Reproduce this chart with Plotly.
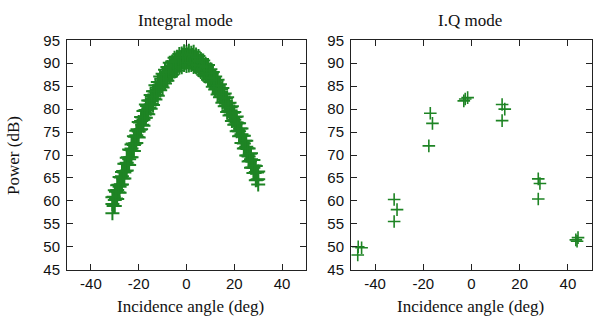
import plotly.graph_objects as go

# Integral mode: dense sweep, samples per degree of incidence
angle_int = [-31, -30, -29, -28, -27, -26, -25, -24, -23, -22, -21, -20, -19, -18, -17, -16,
             -15, -14, -13, -12, -11, -10, -9, -8, -7, -6, -5, -4, -3, -2, -1, 0,
             1, 2, 3, 4, 5, 6, 7, 8, 9, 10, 11, 12, 13, 14, 15, 16,
             17, 18, 19, 20, 21, 22, 23, 24, 25, 26, 27, 28, 29, 30]
power_int_hi = [60.8, 62.3, 63.4, 65.2, 66.3, 68.1, 69.4, 71.2, 72.3, 74.1, 75.3, 77.2, 78.3, 79.6, 81.0, 81.9,
                83.1, 83.9, 85.2, 85.9, 87.1, 87.7, 88.6, 89.2, 90.1, 90.4, 91.2, 91.4, 92.0, 92.1, 92.6, 92.4,
                92.7, 92.3, 92.5, 91.9, 91.6, 90.9, 90.6, 89.9, 89.6, 88.7, 88.1, 87.1, 86.4, 85.4, 84.6, 83.4,
                82.6, 81.4, 80.6, 79.4, 78.4, 76.9, 75.8, 74.2, 73.1, 71.4, 70.4, 68.9, 67.6, 66.4]
power_int_mid = [59.3, 60.2, 62.4, 63.1, 65.4, 66.2, 68.3, 69.1, 71.4, 72.2, 74.3, 75.1, 77.4, 77.7, 79.8, 80.2,
                 81.8, 82.2, 83.8, 84.2, 85.8, 86.0, 87.3, 87.5, 88.8, 88.7, 89.9, 89.7, 90.7, 90.4, 91.3, 90.7,
                 91.3, 90.8, 91.1, 90.2, 90.3, 89.2, 89.3, 88.2, 88.3, 87.0, 86.8, 85.4, 85.1, 83.7, 83.3, 81.7,
                 81.3, 79.7, 79.3, 77.7, 77.1, 75.2, 74.5, 72.5, 71.8, 69.7, 69.1, 67.2, 66.3, 64.7]
power_int_lo = [57.3, 58.9, 60.4, 61.8, 63.6, 64.9, 66.6, 67.8, 69.5, 70.9, 72.6, 73.8, 75.6, 76.4, 78.1, 78.9,
                80.1, 80.9, 82.1, 82.9, 84.1, 84.7, 85.6, 86.2, 87.0, 87.5, 88.2, 88.4, 89.0, 89.1, 89.6, 89.4,
                89.5, 89.6, 89.2, 89.1, 88.5, 88.1, 87.5, 87.1, 86.4, 85.9, 84.9, 84.3, 83.2, 82.6, 81.4, 80.6,
                79.4, 78.6, 77.4, 76.6, 75.2, 74.1, 72.6, 71.4, 69.9, 68.6, 67.2, 66.1, 64.5, 63.6]

# Samples taken between the whole degrees
angle_int_half = [-30.5, -29.5, -28.5, -27.5, -26.5, -25.5, -24.5, -23.5, -22.5, -21.5,
                  -20.5, -19.5, -18.5, -17.5, -16.5, -15.5, -14.5, -13.5, -12.5, -11.5,
                  -10.5, -9.5, -8.5, -7.5, -6.5, -5.5, -4.5, -3.5, -2.5, -1.5,
                  -0.5, 0.5, 1.5, 2.5, 3.5, 4.5, 5.5, 6.5, 7.5, 8.5,
                  9.5, 10.5, 11.5, 12.5, 13.5, 14.5, 15.5, 16.5, 17.5, 18.5,
                  19.5, 20.5, 21.5, 22.5, 23.5, 24.5, 25.5, 26.5, 27.5, 28.5,
                  29.5]
power_int_half_hi = [60.9, 62.0, 63.5, 65.1, 66.5, 68.1, 69.5, 71.1, 72.5, 74.0,
                     75.6, 77.1, 78.2, 79.7, 80.7, 81.9, 82.7, 83.9, 84.7, 85.9,
                     86.6, 87.6, 88.1, 89.0, 89.5, 90.2, 90.5, 91.1, 91.3, 91.8,
                     91.8, 91.9, 91.7, 91.8, 91.4, 91.2, 90.5, 90.2, 89.5, 89.2,
                     88.4, 87.8, 86.8, 86.2, 85.1, 84.4, 83.2, 82.4, 81.2, 80.4,
                     79.2, 78.3, 76.9, 75.8, 74.2, 73.1, 71.5, 70.3, 68.9, 67.7,
                     66.2]
power_int_half_lo = [58.9, 60.5, 61.9, 63.5, 64.9, 66.5, 67.9, 69.5, 70.9, 72.5,
                     73.9, 75.5, 76.6, 78.1, 79.1, 80.3, 81.1, 82.3, 83.1, 84.3,
                     85.0, 86.0, 86.5, 87.5, 87.9, 88.6, 88.9, 89.5, 89.7, 90.2,
                     90.1, 90.2, 90.1, 90.1, 89.8, 89.6, 88.9, 88.6, 87.9, 87.6,
                     86.8, 86.2, 85.2, 84.6, 83.5, 82.8, 81.6, 80.8, 79.6, 78.8,
                     77.6, 76.7, 75.3, 74.2, 72.6, 71.5, 69.9, 68.7, 67.3, 66.1,
                     64.6]

# I.Q mode: sparse measurements
angle_iq = [-47.0, -45.6, -47.2, -32.1, -30.9, -32.1, -17.1, -16.2, -17.7,
            -3.2, -2.6, -1.6, 12.7, 13.8, 12.7, 27.7, 28.4, 27.7, 43.3, 44.2, 43.8]
power_iq = [50.0, 49.8, 48.2, 60.3, 58.1, 55.5, 79.1, 76.9, 72.0,
            81.8, 82.2, 82.5, 81.0, 80.0, 77.5, 64.8, 63.8, 60.4, 51.5, 52.0, 51.2]

x_ticks = [-40, -20, 0, 20, 40]
x_tick_text = ["-40", "-20", "0", "20", "40"]
y_ticks = [45, 50, 55, 60, 65, 70, 75, 80, 85, 90, 95]

GREEN = "#1e8424"
W, H = 605, 328
band_marker = dict(symbol="cross-thin", size=10, line=dict(color=GREEN, width=2.0), color=GREEN)
iq_marker = dict(symbol="cross-thin", size=9, line=dict(color=GREEN, width=1.6), color=GREEN)

fig = go.Figure()
band = [(angle_int, power_int_lo), (angle_int, power_int_mid), (angle_int, power_int_hi),
        (angle_int_half, power_int_half_lo), (angle_int_half, power_int_half_hi)]
for xs, ys in band:
    fig.add_trace(go.Scatter(x=xs, y=ys, mode="markers", marker=band_marker,
                             xaxis="x", yaxis="y", showlegend=False, hoverinfo="skip"))
fig.add_trace(go.Scatter(x=angle_iq, y=power_iq, mode="markers", marker=iq_marker,
                         xaxis="x2", yaxis="y2", showlegend=False))

y0, y1 = 1 - 275 / H, 1 - 33 / H
axis_common = dict(showline=True, linecolor="#222", linewidth=1, mirror="ticks",
                   ticks="inside", ticklen=6, tickcolor="#222", showgrid=False, zeroline=False,
                   tickfont=dict(family="Liberation Sans, Arial", size=15, color="#111"))

fig.update_layout(
    width=W, height=H,
    margin=dict(l=0, r=0, t=0, b=0),
    paper_bgcolor="white", plot_bgcolor="white",
    xaxis=dict(domain=[67 / W, 306 / W], range=[-50, 50], tickvals=x_ticks, ticktext=x_tick_text,
               anchor="y", **axis_common),
    yaxis=dict(domain=[y0, y1], range=[45, 95], tickvals=y_ticks, anchor="x",
               ticklabelstandoff=3, **axis_common),
    xaxis2=dict(domain=[351 / W, 592 / W], range=[-50, 50], tickvals=x_ticks, ticktext=x_tick_text,
                anchor="y2", **axis_common),
    yaxis2=dict(domain=[y0, y1], range=[45, 95], tickvals=y_ticks, anchor="x2",
                ticklabelstandoff=3, **axis_common),
)

serif = dict(family="Liberation Serif, Times New Roman", size=17, color="#111")
def label(text, x, y, angle=0):
    fig.add_annotation(text=text, x=x / W, y=1 - y / H, xref="paper", yref="paper",
                       showarrow=False, textangle=angle, font=serif,
                       xanchor="center", yanchor="middle")

label("Integral mode", 185, 12)
label("I.Q mode", 470, 12)
label("Incidence angle (deg)", 190, 314)
label("Incidence angle (deg)", 470, 314)
label("Power (dB)", 14, 155, angle=-90)

fig.write_html("out.html")
